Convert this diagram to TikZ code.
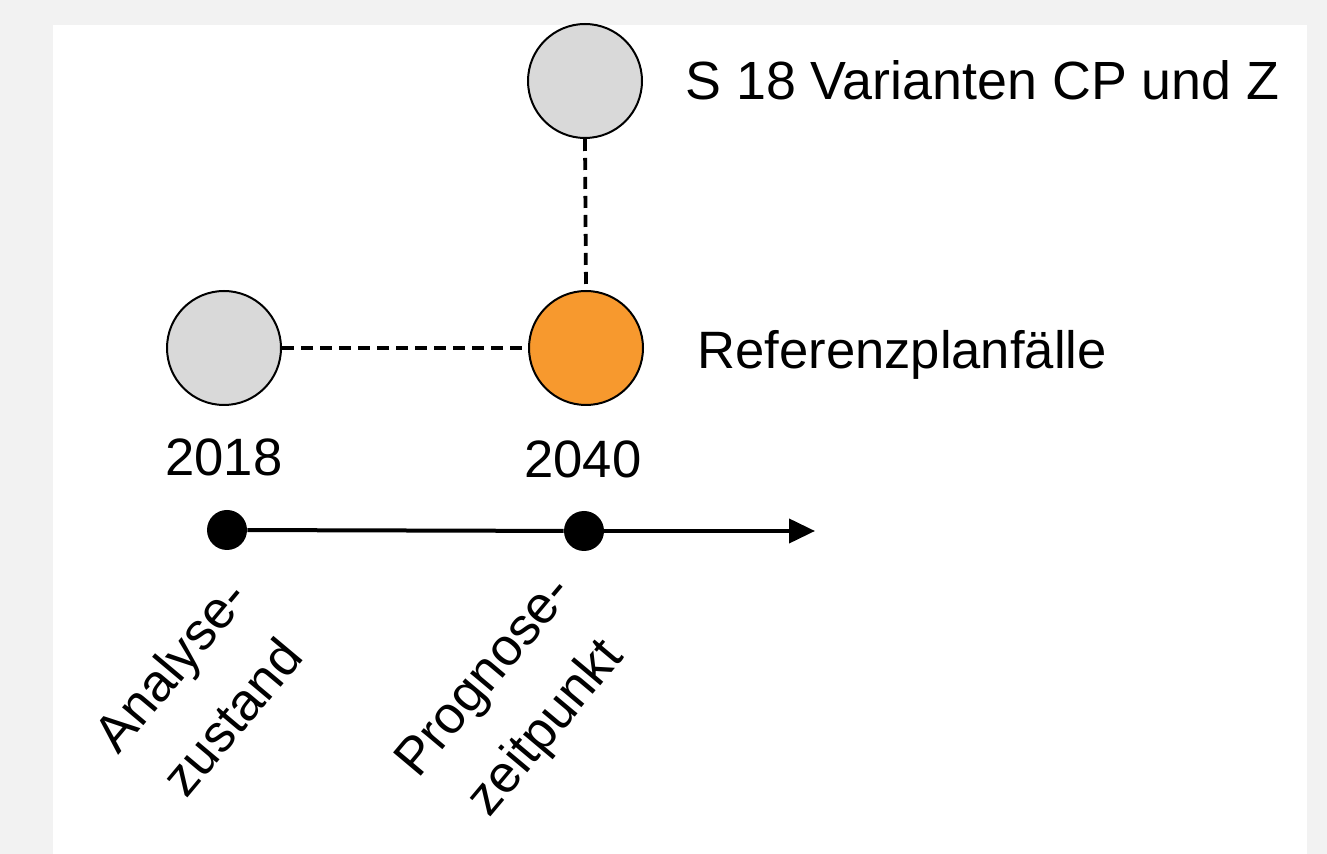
\documentclass[tikz,border=0pt]{standalone}
\usepackage{fontspec}
\setmainfont{Liberation Sans}
\usetikzlibrary{arrows.meta,calc}
\definecolor{outerbg}{RGB}{242,242,242}
\definecolor{circgray}{RGB}{217,217,217}
\definecolor{circorange}{RGB}{247,153,46}
\begin{document}
\begin{tikzpicture}[x=0.5pt,y=-0.5pt,
  big/.style={circle,draw=black,line width=1pt,minimum size=57pt,inner sep=0pt},
  dot/.style={circle,fill=black,minimum size=20pt,inner sep=0pt},
  lbl/.style={font=\fontsize{26.3}{34}\selectfont,inner sep=0pt},
  rlbl/.style={font=\fontsize{26.3}{40}\selectfont,inner sep=0pt,rotate=50,align=center},
  conn/.style={dash pattern=on 6pt off 3.5pt,line width=1.9pt},
  timeline/.style={line width=2pt}]
\fill[outerbg] (0,0) rectangle (1327,854);
\fill[white] (53,25) rectangle (1307,854);
\useasboundingbox (0,0) rectangle (1327,854);
\node[big,fill=circgray] (top) at (585,81) {};
\node[big,fill=circgray] (left) at (224,348) {};
\node[big,fill=circorange] (ref) at (586,348) {};
\draw[conn] (left.east) -- (ref.west);
\draw[conn] (top.south) -- (ref.north);
\node[dot] (d1) at (227,530) {};
\node[dot] (d2) at (584,531) {};
\coordinate (tend) at (815,531);
\draw[timeline] (d1) -- (d2);
\draw[timeline,-{Triangle[length=13pt,width=12pt]}] (d2) -- (tend);
\node[lbl,anchor=base] (y1) at (224,476) {2018};
\node[lbl,anchor=base] (y2) at (583,478) {2040};
\node[lbl,anchor=base west,font=\fontsize{26.9}{34}\selectfont] (t1) at (685,100) {S 18 Varianten CP und Z};
\node[lbl,anchor=base west] (t2) at (697,369) {Referenzplanfälle};
\node[rlbl] (a1) at (201,691) {Analyse-\\zustand};
\node[rlbl] (a2) at (517,704) {Prognose-\\zeitpunkt};
\end{tikzpicture}
\end{document}
